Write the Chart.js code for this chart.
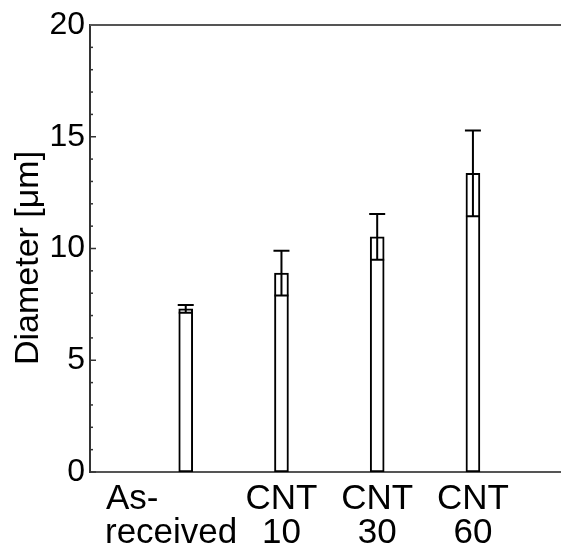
<!DOCTYPE html>
<html>
<head>
<meta charset="utf-8">
<script src="https://cdn.jsdelivr.net/npm/chart.js@4.4.0/dist/chart.umd.min.js"></script>
<style>
  html, body { margin: 0; padding: 0; background: #fff; }
  canvas { display: block; }
</style>
</head>
<body>
<canvas id="myChart" width="561" height="548"></canvas>
<script>
// data
const categories = [["As-           ", "received   "], ["CNT", "10"], ["CNT", "30"], ["CNT", "60"]];
const positions = [1, 2, 3, 4];
const means = [7.3, 8.9, 10.52, 13.36];
const sds = [0.17, 1.0, 1.02, 1.92];
const yTicks = [0, 5, 10, 15, 20];

const FONT = "'Liberation Sans', Arial, sans-serif";

// error bars + inward ticks + top frame line
const extras = {
  id: 'extras',
  afterDatasetsDraw(chart) {
    const ctx = chart.ctx;
    const y = chart.scales.y;
    const area = chart.chartArea;
    const meta = chart.getDatasetMeta(0);

    ctx.save();
    ctx.strokeStyle = '#000';
    ctx.lineWidth = 2;
    meta.data.forEach((bar, i) => {
      const half = bar.width / 2;
      const yTop = y.getPixelForValue(means[i] + sds[i]);
      const yLow = y.getPixelForValue(means[i] - sds[i]);
      ctx.beginPath();
      ctx.moveTo(bar.x, yTop);
      ctx.lineTo(bar.x, yLow);
      ctx.moveTo(bar.x - half - 1, yTop);
      ctx.lineTo(bar.x + half + 1, yTop);
      ctx.moveTo(bar.x - half, yLow);
      ctx.lineTo(bar.x + half, yLow);
      ctx.stroke();
    });

    // y ticks pointing in
    ctx.strokeStyle = '#333';
    ctx.lineWidth = 1.5;
    for (let v = y.min; v <= y.max; v++) {
      const py = y.getPixelForValue(v);
      const len = v % 5 === 0 ? 6 : 3;
      ctx.beginPath();
      ctx.moveTo(area.left, py);
      ctx.lineTo(area.left + len, py);
      ctx.stroke();
    }

    // top line
    ctx.lineWidth = 2;
    ctx.strokeStyle = '#555';
    ctx.beginPath();
    ctx.moveTo(area.left, area.top);
    ctx.lineTo(chart.width, area.top);
    ctx.stroke();
    ctx.restore();
  }
};

new Chart(document.getElementById('myChart'), {
  type: 'bar',
  data: {
    datasets: [{
      data: positions.map((p, i) => ({ x: p, y: means[i] })),
      backgroundColor: '#fff',
      borderColor: '#000',
      borderWidth: 2,
      borderSkipped: false,
      barThickness: 14
    }]
  },
  options: {
    responsive: false,
    animation: false,
    layout: { padding: { top: 25, right: 0, left: 0, bottom: 0 } },
    plugins: {
      legend: { display: false },
      tooltip: { enabled: false }
    },
    scales: {
      x: {
        type: 'linear',
        offset: false,
        min: 0,
        max: 4.92,
        afterFit: s => { s.height = 76; },
        afterBuildTicks: s => { s.ticks = positions.map(v => ({ value: v })); },
        grid: { display: false, drawTicks: false },
        border: { display: true, color: '#555', width: 2 },
        ticks: {
          autoSkip: false,
          maxRotation: 0,
          padding: 11,
          color: '#000',
          font: { family: FONT, size: 35, lineHeight: 0.96 },
          callback: v => categories[positions.indexOf(v)]
        }
      },
      y: {
        min: 0,
        max: 20,
        afterFit: s => { s.width = 90; },
        afterBuildTicks: s => { s.ticks = yTicks.map(v => ({ value: v })); },
        grid: { display: false, drawTicks: false },
        border: { display: true, color: '#333', width: 2 },
        ticks: {
          padding: 5,
          color: '#000',
          font: { family: FONT, size: 32 }
        },
        title: {
          display: true,
          text: 'Diameter [μm]  ',
          color: '#000',
          padding: { top: 8, bottom: 0 },
          font: { family: FONT, size: 34, lineHeight: 1.2 }
        }
      }
    }
  },
  plugins: [extras]
});
</script>
</body>
</html>
